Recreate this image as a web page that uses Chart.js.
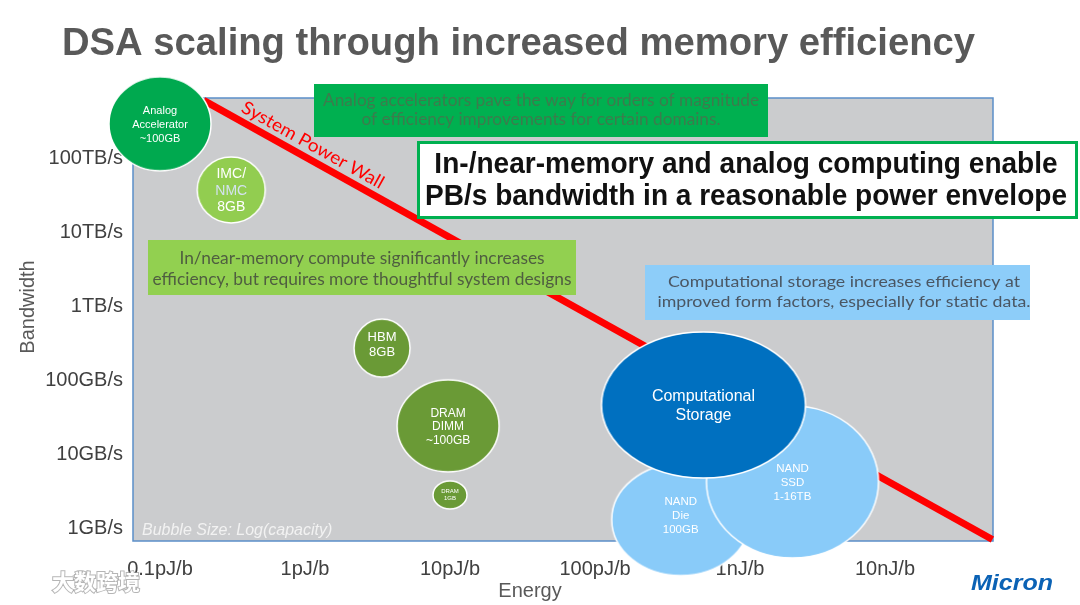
<!DOCTYPE html>
<html>
<head>
<meta charset="utf-8">
<title>DSA scaling through increased memory efficiency</title>
<script src="https://cdn.jsdelivr.net/npm/chart.js@4.4.1/dist/chart.umd.min.js"></script>
<style>
  html, body { margin: 0; padding: 0; background: #fff; }
  #wrap { width: 1080px; height: 605px; }
</style>
</head>
<body>
<div id="wrap"><canvas id="chart" width="1080" height="605"></canvas></div>
<script>
// energy per bit in pJ/b (x) against bandwidth in GB/s (y), both log scale
const bubbleNames = ['Analog Accelerator', 'IMC/NMC', 'HBM', 'DRAM DIMM', 'DRAM 1GB', 'NAND Die', 'NAND SSD', 'Computational Storage'];
const bubbleEnergy = [0.1, 0.31, 3.4, 9.7, 10, 390, 2300, 560];
const bubbleBandwidth = [290000, 37000, 270, 24, 2.8, 1.3, 4.2, 46];
const bubbleText = [
  ['Analog', 'Accelerator', '~100GB'],
  ['IMC/', 'NMC', '8GB'],
  ['HBM', '8GB'],
  ['DRAM', 'DIMM', '~100GB'],
  ['DRAM', '1GB'],
  ['NAND', 'Die', '100GB'],
  ['NAND', 'SSD', '1-16TB'],
  ['Computational', 'Storage']
];

// the "System Power Wall" line
const wallEnergy = [0.2, 55000];
const wallBandwidth = [600000, 0.7];

const xTickValues = [0.1, 1, 10, 100, 1000, 10000];
const xTickLabels = ['0.1pJ/b', '1pJ/b', '10pJ/b', '100pJ/b', '1nJ/b', '10nJ/b'];
const yTickValues = [1, 10, 100, 1000, 10000, 100000];
const yTickLabels = ['1GB/s', '10GB/s', '100GB/s', '1TB/s', '10TB/s', '100TB/s'];

// looks
const bubbleRx = [51, 34, 28, 51, 17, 69, 86, 102];
const bubbleRy = [47, 33, 29, 46, 14, 56, 76, 73];
const bubbleColors = ['#00A94F', '#92CD50', '#6A9A36', '#6A9A36', '#6A9A36', '#89CBF9', '#89CBF9', '#0070C0'];
const labelSize = [11, 14, 13, 12, 6, 11.5, 11.5, 16];
const labelLead = [14, 16.5, 15, 13.5, 7, 14, 14, 19];
const labelShift = [1, 1, -3, 1, 0, -4, 1, 1];

const SANS = "'Liberation Sans', Arial, sans-serif";
const SOFT = "Lato, 'Open Sans', sans-serif";

function ellipseImage(rx, ry, fill) {
  const c = document.createElement('canvas');
  c.width = rx * 2 + 4;
  c.height = ry * 2 + 4;
  const g = c.getContext('2d');
  g.beginPath();
  g.ellipse(c.width / 2, c.height / 2, rx, ry, 0, 0, Math.PI * 2);
  g.fillStyle = fill;
  g.fill();
  g.lineWidth = 1.5;
  g.strokeStyle = '#ffffff';
  g.stroke();
  return c;
}
const bubbleImages = bubbleNames.map((n, i) => ellipseImage(bubbleRx[i], bubbleRy[i], bubbleColors[i]));

// draw a block of centred lines, squeezed so the widest line is maxW wide
function fitLines(ctx, lines, cx, ys, font, color, maxW) {
  ctx.save();
  ctx.font = font;
  ctx.fillStyle = color;
  ctx.textAlign = 'center';
  ctx.textBaseline = 'middle';
  const w = Math.max(...lines.map(l => ctx.measureText(l).width));
  const sx = maxW / w;
  lines.forEach((l, i) => {
    ctx.save();
    ctx.translate(cx, ys[i]);
    ctx.scale(sx, 1);
    ctx.fillText(l, 0, 0);
    ctx.restore();
  });
  ctx.restore();
}

// keep the plot box where the slide has it
function pinScale(s, key, size) {
  s[key] = size;
  s.paddingTop = 0;
  s.paddingBottom = 0;
  s.paddingLeft = 0;
  s.paddingRight = 0;
}

const plotBackground = {
  id: 'plotBackground',
  beforeDatasetsDraw(chart) {
    const { ctx, chartArea: a } = chart;
    ctx.save();
    ctx.fillStyle = '#CBCCCE';
    ctx.fillRect(a.left, a.top, a.right - a.left, a.bottom - a.top);
    ctx.strokeStyle = '#5B8FC9';
    ctx.lineWidth = 1.5;
    ctx.strokeRect(a.left, a.top, a.right - a.left, a.bottom - a.top);
    ctx.fillStyle = '#F2F2F2';
    ctx.font = 'italic 16px ' + SANS;
    ctx.textBaseline = 'alphabetic';
    ctx.fillText('Bubble Size: Log(capacity)', a.left + 9, a.bottom - 6);
    ctx.restore();
  }
};

const bubbleLabels = {
  id: 'bubbleLabels',
  afterDatasetsDraw(chart) {
    const { ctx } = chart;
    const meta = chart.getDatasetMeta(1);
    ctx.save();
    ctx.textAlign = 'center';
    ctx.textBaseline = 'middle';
    meta.data.forEach((el, i) => {
      const lines = bubbleText[i];
      const lead = labelLead[i];
      const y0 = el.y + labelShift[i] - lead * (lines.length - 1) / 2;
      ctx.font = labelSize[i] + 'px ' + SANS;
      lines.forEach((t, k) => {
        ctx.fillStyle = (i === 1 && k === 1) ? '#D3E2EF' : '#FFFFFF';
        ctx.fillText(t, el.x, y0 + k * lead);
      });
    });

    // wall caption, laid along the red line
    const wall = chart.getDatasetMeta(0).data;
    const p0 = wall[0], p1 = wall[1];
    const ang = Math.atan2(p1.y - p0.y, p1.x - p0.x);
    const t = (306 - p0.x) / (p1.x - p0.x);
    const cx = p0.x + t * (p1.x - p0.x) + Math.sin(ang) * 14;
    const cy = p0.y + t * (p1.y - p0.y) - Math.cos(ang) * 14;
    ctx.translate(cx, cy);
    ctx.rotate(ang);
    fitLines(ctx, ['System Power Wall'], 0, [0], '18px ' + SOFT, '#FF0000', 160);
    ctx.restore();
  }
};

const slideText = {
  id: 'slideText',
  afterDraw(chart) {
    const { ctx } = chart;
    ctx.save();

    // title
    ctx.font = 'bold 38px ' + SANS;
    ctx.fillStyle = '#595959';
    ctx.textBaseline = 'alphabetic';
    ctx.textAlign = 'left';
    const tw = ctx.measureText('DSA scaling through increased memory efficiency').width;
    ctx.save();
    ctx.translate(62, 55);
    ctx.scale(913 / tw, 1);
    ctx.fillText('DSA scaling through increased memory efficiency', 0, 0);
    ctx.restore();

    // axis titles
    ctx.font = '20px ' + SANS;
    ctx.fillStyle = '#595959';
    ctx.textAlign = 'center';
    ctx.textBaseline = 'middle';
    ctx.fillText('Energy', 530, 591);
    ctx.save();
    ctx.translate(28, 307);
    ctx.rotate(-Math.PI / 2);
    ctx.fillText('Bandwidth', 0, 0);
    ctx.restore();

    // callout boxes
    ctx.fillStyle = '#00B050';
    ctx.fillRect(314, 84, 454, 53);
    fitLines(ctx, ['Analog accelerators pave the way for orders of magnitude', 'of efficiency improvements for certain domains.'],
      541, [101, 120], '17px ' + SOFT, '#3D7B4D', 436);

    ctx.fillStyle = '#92D050';
    ctx.fillRect(148, 240, 428, 55);
    fitLines(ctx, ['In/near-memory compute significantly increases', 'efficiency, but requires more thoughtful system designs'],
      362, [259, 280], '17px ' + SOFT, '#4F5E40', 419);

    ctx.fillStyle = '#8DCDF9';
    ctx.fillRect(645, 265, 385, 55);
    fitLines(ctx, ['Computational storage increases efficiency at', 'improved form factors, especially for static data.'],
      844, [282, 302], '16px ' + SOFT, '#4A5663', 373);

    ctx.fillStyle = '#FFFFFF';
    ctx.fillRect(417, 141, 661, 78);
    ctx.strokeStyle = '#00B050';
    ctx.lineWidth = 3;
    ctx.strokeRect(418.5, 142.5, 658, 75);
    fitLines(ctx, ['In-/near-memory and analog computing enable', 'PB/s bandwidth in a reasonable power envelope'],
      746, [165, 197], "bold 30px 'Liberation Sans Narrow', " + SANS, '#111111', 642);

    // corner marks
    ctx.font = "bold 22px 'Noto Sans CJK SC', sans-serif";
    ctx.textAlign = 'left';
    ctx.textBaseline = 'middle';
    ctx.lineWidth = 2;
    ctx.strokeStyle = 'rgba(150,150,150,0.7)';
    ctx.strokeText('大数跨境', 52, 582);
    ctx.fillStyle = '#FFFFFF';
    ctx.fillText('大数跨境', 52, 582);

    ctx.textAlign = 'center';
    fitLines(ctx, ['Micron'], 1012, [584], 'italic bold 22px ' + SANS, '#0B62B5', 82);
    ctx.restore();
  }
};

new Chart(document.getElementById('chart'), {
  type: 'bubble',
  data: {
    datasets: [
      {
        type: 'line',
        label: 'System Power Wall',
        data: wallEnergy.map((x, i) => ({ x, y: wallBandwidth[i] })),
        borderColor: '#FF0000',
        borderWidth: 7,
        pointRadius: 0,
        tension: 0,
        clip: false,
        order: 2
      },
      {
        label: 'Memory and storage',
        data: bubbleEnergy.map((x, i) => ({ x, y: bubbleBandwidth[i], r: (bubbleRx[i] + bubbleRy[i]) / 2 })),
        pointStyle: ctx => bubbleImages[ctx.dataIndex],
        backgroundColor: bubbleColors,
        clip: false,
        order: 1
      }
    ]
  },
  options: {
    responsive: false,
    animation: false,
    events: [],
    // big bubbles would otherwise push the plot box inwards
    layout: { autoPadding: false, padding: { left: 0, right: 87, top: 98, bottom: 0 } },
    plugins: { legend: { display: false }, tooltip: { enabled: false }, title: { display: false } },
    scales: {
      x: {
        type: 'logarithmic',
        bounds: 'data',
        min: 0.06514,
        max: 55560,
        grid: { display: false, drawTicks: false },
        border: { display: false },
        afterBuildTicks: s => { s.ticks = xTickValues.map(v => ({ value: v })); },
        afterFit: s => pinScale(s, 'height', 64),
        ticks: {
          autoSkip: false,
          maxRotation: 0,
          padding: 16,
          color: '#404040',
          font: { family: SANS, size: 20 },
          callback: (v, i) => xTickLabels[i]
        }
      },
      y: {
        type: 'logarithmic',
        bounds: 'data',
        min: 0.6673,
        max: 646900,
        grid: { display: false, drawTicks: false },
        border: { display: false },
        afterBuildTicks: s => { s.ticks = yTickValues.map(v => ({ value: v })); },
        afterFit: s => pinScale(s, 'width', 133),
        ticks: {
          autoSkip: false,
          padding: 10,
          color: '#404040',
          font: { family: SANS, size: 20 },
          callback: (v, i) => yTickLabels[i]
        }
      }
    }
  },
  plugins: [plotBackground, bubbleLabels, slideText]
});
</script>
</body>
</html>
